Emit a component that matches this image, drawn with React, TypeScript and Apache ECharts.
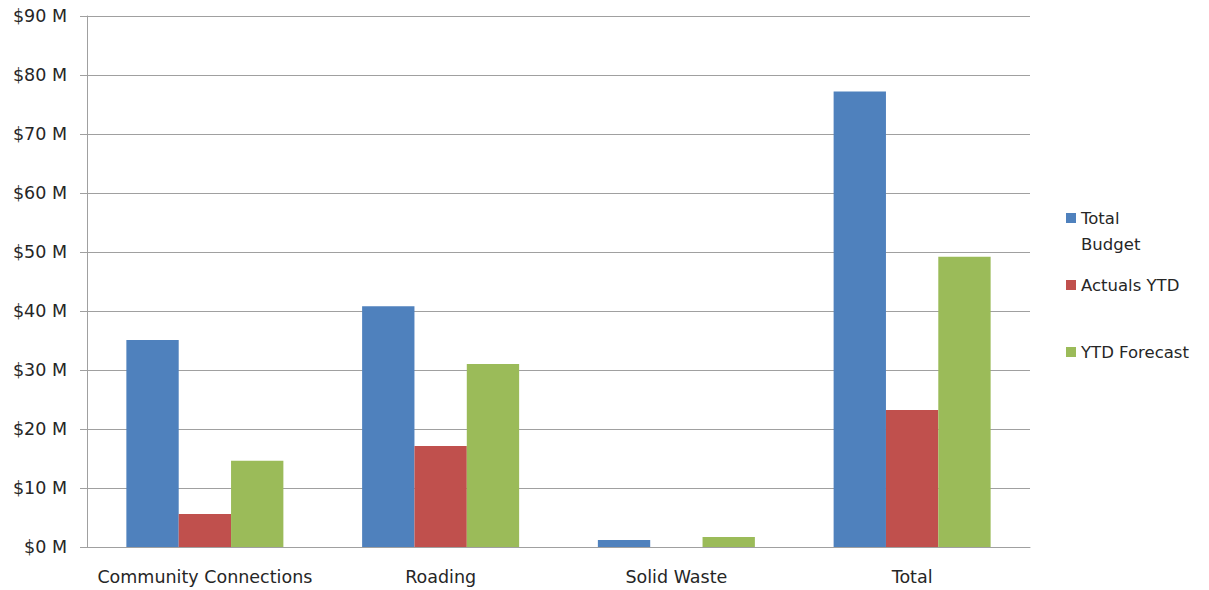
import React, { useEffect, useRef } from "react";
import * as echarts from "echarts";

const categories = ["Community Connections", "Roading", "Solid Waste", "Total"];
const totalBudget = [35.1, 40.8, 1.2, 77.2];
const actualsYTD = [5.6, 17.1, 0, 23.2];
const ytdForecast = [14.6, 31.0, 1.7, 49.2];
const seriesNames = ["Total Budget", "Actuals YTD", "YTD Forecast"];
const legendLabels = ["\nTotal\nBudget", "Actuals YTD", "YTD Forecast"];
const colors = ["#4F81BD", "#C0504D", "#9BBB59"];

const FONT = "DejaVu Sans";
const FS = 17.5;
const TEXT = "#262626";

export default function App() {
  const ref = useRef<HTMLDivElement>(null);
  useEffect(() => {
    if (!ref.current) return;
    const chart = echarts.init(ref.current, undefined, { renderer: "svg" });
    const values = [totalBudget, actualsYTD, ytdForecast];
    const legendTops = [179, 272, 339];
    chart.setOption({
      animation: false,
      textStyle: { fontFamily: FONT },
      grid: { left: 87, right: 179, top: 16, bottom: 43, containLabel: false },
      legend: seriesNames.map((n, i) => ({
        data: [n],
        orient: "vertical",
        left: 1066,
        top: legendTops[i],
        padding: 0,
        itemWidth: 10,
        itemHeight: 10,
        icon: "rect",
        selectedMode: false,
        formatter: () => legendLabels[i],
        textStyle: { fontFamily: FONT, fontSize: 16.5, color: TEXT, lineHeight: 26 },
      })),
      xAxis: {
        type: "category",
        data: categories,
        axisLine: { lineStyle: { color: "#a0a0a0", width: 1 } },
        axisTick: { show: false },
        axisLabel: { interval: 0, fontFamily: FONT, fontSize: FS, color: TEXT, margin: 21 },
      },
      yAxis: {
        type: "value",
        min: 0,
        max: 90,
        interval: 10,
        axisLine: { show: true, lineStyle: { color: "#a0a0a0", width: 1 } },
        axisTick: { show: true, length: 7, lineStyle: { color: "#a0a0a0" } },
        splitLine: { lineStyle: { color: "#a0a0a0", width: 1 } },
        axisLabel: {
          fontFamily: FONT,
          fontSize: FS,
          color: TEXT,
          margin: 20,
          formatter: (v: number) => `$${v} M`,
        },
      },
      series: seriesNames.map((n, i) => ({
        name: n,
        type: "bar",
        data: values[i],
        barGap: "0%",
        barCategoryGap: "33.4%",
        itemStyle: { color: colors[i] },
      })),
    });
    return () => chart.dispose();
  }, []);
  return <div ref={ref} style={{ width: 1209, height: 590, position: "absolute", left: 0, top: 0 }} />;
}
